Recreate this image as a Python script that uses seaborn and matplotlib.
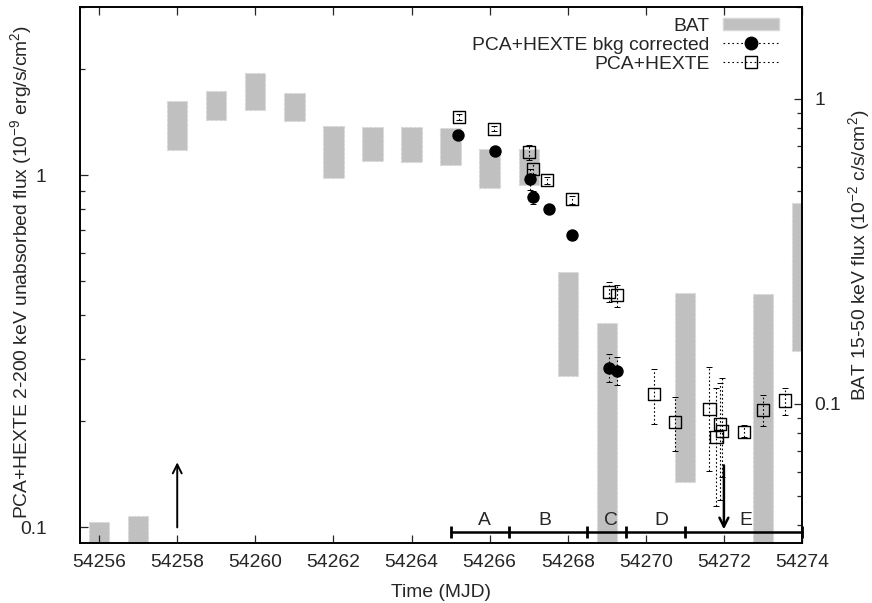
import numpy as np
import matplotlib
matplotlib.use("Agg")
import matplotlib.pyplot as plt
from matplotlib.ticker import FixedLocator, FuncFormatter, NullFormatter
from matplotlib.patches import Patch
from matplotlib.lines import Line2D
import seaborn as sns

# ---------------- data ----------------
# BAT 15-50 keV daily flux ranges (10^-2 c/s/cm^2)
bat_mjd = [54256, 54257, 54258, 54259, 54260, 54261, 54262, 54263, 54264,
           54265, 54266, 54267, 54268, 54269, 54271, 54273, 54274]
bat_lo = [0.030, 0.030, 0.682, 0.855, 0.922, 0.845, 0.549, 0.626, 0.621,
          0.607, 0.510, 0.523, 0.123, 0.030, 0.0556, 0.030, 0.1496]
bat_hi = [0.0410, 0.0428, 0.987, 1.062, 1.214, 1.046, 0.815, 0.811, 0.807,
          0.803, 0.685, 0.685, 0.271, 0.184, 0.231, 0.229, 0.455]

# PCA+HEXTE 2-200 keV unabsorbed flux, background corrected (10^-9 erg/s/cm^2)
bkg_mjd = [54265.19, 54266.14, 54267.04, 54267.10, 54267.52, 54268.11,
           54269.06, 54269.26]
bkg_flux = [1.298, 1.170, 0.972, 0.865, 0.799, 0.678, 0.284, 0.278]
bkg_lo = [1.273, 1.145, 0.910, 0.826, 0.780, 0.656, 0.259, 0.253]
bkg_hi = [1.323, 1.195, 1.040, 0.899, 0.818, 0.700, 0.3115, 0.305]

# PCA+HEXTE 2-200 keV unabsorbed flux (10^-9 erg/s/cm^2)
raw_mjd = [54265.22, 54266.11, 54267.00, 54267.10, 54267.47, 54268.11,
           54269.06, 54269.26, 54270.22, 54270.74, 54271.63, 54271.89,
           54271.81, 54271.94, 54272.52, 54272.99, 54273.57]
raw_flux = [1.460, 1.354, 1.162, 1.043, 0.966, 0.853, 0.466, 0.456, 0.2393,
            0.1994, 0.217, 0.196, 0.181, 0.1876, 0.187, 0.2157, 0.2292]
raw_lo = [1.430, 1.330, 1.106, 1.010, 0.945, 0.830, 0.436, 0.423, 0.196,
          0.1646, 0.1445, 0.1196, 0.115, 0.1392, 0.180, 0.1943, 0.2087]
raw_hi = [1.490, 1.380, 1.219, 1.080, 0.990, 0.875, 0.497, 0.486, 0.282,
          0.2338, 0.2856, 0.2566, 0.2484, 0.2657, 0.195, 0.2373, 0.2479]

# spectral phases
phase_edges = [54265.0, 54266.5, 54268.5, 54269.5, 54271.0, 54274.0]
phase_names = ["A", "B", "C", "D", "E"]
phase_label_x = [54265.87, 54267.41, 54269.10, 54270.39, 54272.57]
phase_y = 0.0969
phase_label_y = 0.1016

# arrows (x, start, end) in left-axis units
arrow_up = (54258.0, 0.100, 0.153)
arrow_down = (54272.0, 0.150, 0.0987)

x_ticks = list(range(54256, 54275, 2))

# ---------------- style ----------------
sns.set_style("ticks")
plt.rcParams["font.family"] = ["Liberation Sans", "DejaVu Sans"]
plt.rcParams["mathtext.fontset"] = "custom"
plt.rcParams["mathtext.rm"] = "Liberation Sans"
plt.rcParams["mathtext.it"] = "Liberation Sans:italic"
plt.rcParams["mathtext.default"] = "regular"
FS = 13.9

fig = plt.figure(figsize=(8.72, 6.03), dpi=100)
ax = fig.add_axes([80 / 872, 1 - 543 / 603, 722 / 872, 536 / 603])
ax2 = ax.twinx()
ax.set_zorder(ax2.get_zorder() + 1)
ax.patch.set_visible(False)

# BAT boxes on the right axis
bat_lo_a = np.array(bat_lo)
bat_hi_a = np.array(bat_hi)
ax2.bar(bat_mjd, bat_hi_a - bat_lo_a, bottom=bat_lo_a, width=0.52,
        color="#c0c0c0", edgecolor="#d6d6d6", linestyle=(0, (2, 2)),
        linewidth=0.8, zorder=1)
ax2.set_yscale("log")
ax2.set_ylim(0.035, 2.0)

# PCA+HEXTE points on the left axis
err_kw = dict(fmt="none", ecolor="black", elinewidth=0.8, capsize=2.5,
              capthick=0.7, zorder=3)
eb = ax.errorbar(raw_mjd, raw_flux,
                 yerr=[np.array(raw_flux) - np.array(raw_lo),
                       np.array(raw_hi) - np.array(raw_flux)], **err_kw)
eb[2][0].set_linestyle((0, (1.5, 2)))
eb2 = ax.errorbar(bkg_mjd, bkg_flux,
                  yerr=[np.array(bkg_flux) - np.array(bkg_lo),
                        np.array(bkg_hi) - np.array(bkg_flux)], **err_kw)
eb2[2][0].set_linestyle((0, (1.5, 2)))

sns.scatterplot(x=raw_mjd, y=raw_flux, ax=ax, marker="s", s=76,
                facecolors="none", edgecolor="black", linewidth=1.0,
                color=None, zorder=4)
sns.scatterplot(x=bkg_mjd, y=bkg_flux, ax=ax, marker="o", s=80,
                color="black", edgecolor="black", linewidth=0, zorder=5)

ax.set_yscale("log")
ax.set_xlim(54255.51, 54274.0)
ax.set_ylim(0.0903, 3.0)

# phase bar
ax.plot(phase_edges, [phase_y] * len(phase_edges), color="black", lw=1.8,
        marker="|", markersize=9, markeredgewidth=2.0, zorder=6,
        clip_on=False)
for name, xl in zip(phase_names, phase_label_x):
    ax.text(xl, phase_label_y, name, ha="center", va="baseline", fontsize=FS)

# arrows
ax.annotate("", xy=(arrow_up[0], arrow_up[2]), xytext=(arrow_up[0], arrow_up[1]),
            arrowprops=dict(arrowstyle="->", lw=1.4, color="black",
                            mutation_scale=16, shrinkA=0, shrinkB=0), zorder=6)
ax.annotate("", xy=(arrow_down[0], arrow_down[2]),
            xytext=(arrow_down[0], arrow_down[1]),
            arrowprops=dict(arrowstyle="->", lw=1.8, color="black",
                            mutation_scale=16, shrinkA=0, shrinkB=0), zorder=6)

# ---------------- axes cosmetics ----------------
fmt = FuncFormatter(lambda v, _: f"{v:g}")
ax.xaxis.set_major_locator(FixedLocator(x_ticks))
ax.xaxis.set_major_formatter(FuncFormatter(lambda v, _: f"{int(round(v))}"))
ax.yaxis.set_major_locator(FixedLocator([0.1, 1]))
ax.yaxis.set_minor_locator(FixedLocator([0.2, 0.3, 0.4, 0.5, 0.6, 0.7, 0.8,
                                         0.9, 2, 3]))
ax.yaxis.set_major_formatter(fmt)
ax.yaxis.set_minor_formatter(NullFormatter())
ax2.yaxis.set_major_locator(FixedLocator([0.1, 1]))
ax2.yaxis.set_minor_locator(FixedLocator([0.04, 0.05, 0.06, 0.07, 0.08, 0.09,
                                          0.2, 0.3, 0.4, 0.5, 0.6, 0.7, 0.8,
                                          0.9, 2]))
ax2.yaxis.set_major_formatter(fmt)
ax2.yaxis.set_minor_formatter(NullFormatter())

ax.tick_params(axis="x", which="major", direction="in", length=6, width=0.9,
               top=True, bottom=True, labelsize=FS, pad=8)
ax.tick_params(axis="x", which="minor", bottom=False, top=False)
ax.tick_params(axis="y", which="major", direction="in", length=6, width=0.9,
               left=True, right=False, labelsize=FS, pad=24)
ax.tick_params(axis="y", which="minor", direction="in", length=3.5,
               width=0.9, left=True, right=False)
ax2.tick_params(axis="y", which="major", direction="in", length=6, width=0.9,
                right=True, left=False, labelsize=FS, pad=9)
ax2.tick_params(axis="y", which="minor", direction="in", length=3.5,
                width=0.9, right=True, left=False)

for a in (ax, ax2):
    for sp in a.spines.values():
        sp.set_visible(True)
        sp.set_linewidth(1.2)
        sp.set_color("black")

ax.set_xlabel("Time (MJD)", fontsize=FS)
ax.xaxis.set_label_coords(0.5, -0.076)
ax.set_ylabel("PCA+HEXTE 2-200 keV unabsorbed flux (10$^{-9}$ erg/s/cm$^{2}$)",
              fontsize=FS)
ax.yaxis.set_label_coords(-0.0637, 0.505)
ax2.set_ylabel("BAT 15-50 keV flux (10$^{-2}$ c/s/cm$^{2}$)", fontsize=FS)
ax2.yaxis.set_label_coords(1.061, 0.537)

# legend
handles = [
    Patch(facecolor="#c0c0c0", edgecolor="#d6d6d6"),
    Line2D([], [], color="black", linestyle=(0, (1.5, 2.5)), lw=0.8,
           marker="o", markersize=9, markerfacecolor="black"),
    Line2D([], [], color="black", linestyle=(0, (1.5, 2.5)), lw=0.8,
           marker="s", markersize=8.7, markerfacecolor="none",
           markeredgewidth=1.0),
]
labels = ["BAT", "PCA+HEXTE bkg corrected", "PCA+HEXTE"]
ax.legend(handles, labels, loc="upper right",
          bbox_to_anchor=(0.968, 0.98), frameon=False, markerfirst=False,
          fontsize=FS, handlelength=2.9, handleheight=0.55,
          handletextpad=0.7, labelspacing=0.1, borderpad=0, borderaxespad=0)

fig.savefig("out.png", dpi=100)
